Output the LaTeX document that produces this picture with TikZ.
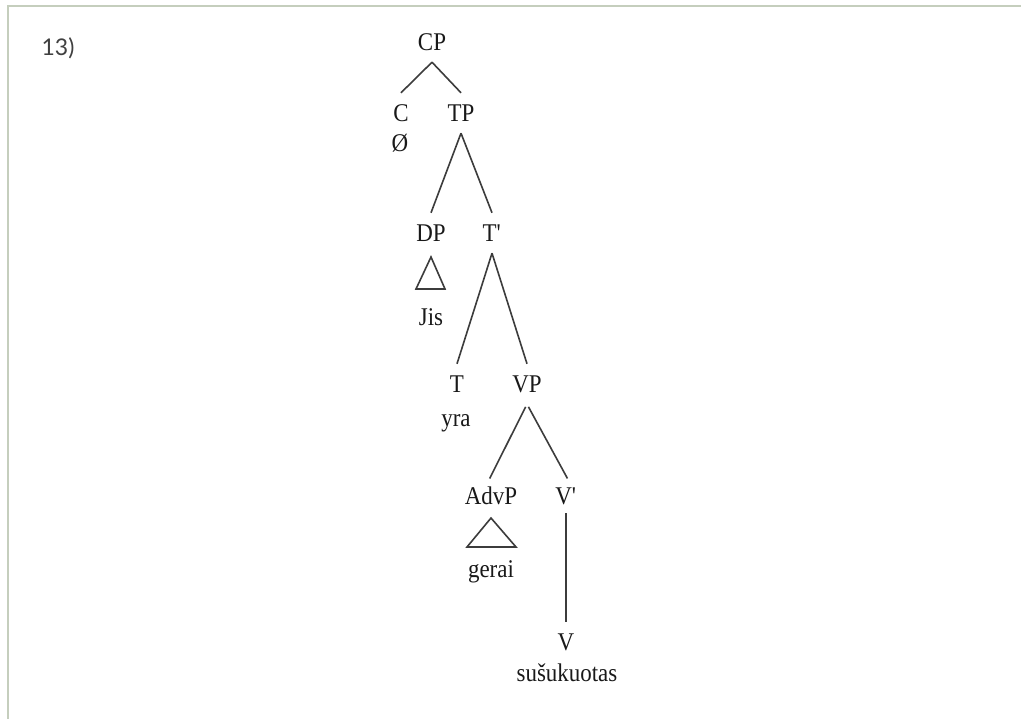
\documentclass[tikz,border=0pt]{standalone}
\usepackage{fontspec}
\setmainfont{Liberation Serif}
\newfontfamily\treefont[FakeStretch=0.9]{Liberation Serif}
\newfontfamily\numfont{Lato}
\usetikzlibrary{calc}
\definecolor{framecol}{HTML}{C5CEBD}
\definecolor{linecol}{HTML}{3C3C3C}
\begin{document}
\begin{tikzpicture}[x=1pt,y=-1pt,
  lab/.style={inner sep=0pt, minimum height=40pt, font=\treefont\fontsize{25.5}{27}\selectfont, text=black!90},
  word/.style={inner sep=0pt, font=\treefont\fontsize{25.5}{27}\selectfont, text=black!90},
  branch/.style={draw=linecol, line width=1.6pt}]
\useasboundingbox (0,0) rectangle (1021,719);
\fill[white] (0,0) rectangle (1021,719);
\draw[framecol, line width=2pt] (8,719) -- (8,6) -- (1021,6);
\node[font=\numfont\fontsize{23}{25}\selectfont, text=black!75] (num) at (58,48) {13)};
% tree nodes
\node[lab] (CP) at (432,42) {CP};
\node[lab] (C) at (401,113) {C};
\node[lab] (TP) at (461,113) {TP};
\node[word] (null) at (400,143) {Ø};
\node[lab] (DP) at (431,233) {DP};
\node[lab] (Tbar) at (492,233) {T\textquotesingle};
\node[word] (Jis) at (431,317) {Jis};
\node[lab] (T) at (457,384) {T};
\node[lab] (VP) at (527,384) {VP};
\node[word] (yra) at (456,423) {yra};
\node[lab] (AdvP) at (491,496) {AdvP};
\node[lab] (Vbar) at (566,496) {V\textquotesingle};
\node[word] (gerai) at (491,572) {gerai};
\node[lab] (V) at (566,642) {V};
\node[word] (verb) at (567,673) {sušukuotas};
% branches
\draw[branch] (CP.south) -- (C.north);
\draw[branch] (CP.south) -- (TP.north);
\draw[branch] (TP.south) -- (DP.north);
\draw[branch] (TP.south) -- (Tbar.north);
\draw[branch] (Tbar.south) -- (T.north);
\draw[branch] (Tbar.south) -- (VP.north);
\draw[branch, shorten <=3pt, shorten >=-3pt] (VP.south) -- (AdvP.north);
\draw[branch, shorten <=3pt, shorten >=-3pt] (VP.south) -- (Vbar.north);
\draw[branch, shorten <=-3pt] (Vbar.south) -- (V.north);
% roofs
\draw[branch, line join=miter] (431,257) -- (416,289) -- (445,289) -- cycle;
\draw[branch, line join=miter] (491,518) -- (467,547) -- (516,547) -- cycle;
\end{tikzpicture}
\end{document}
